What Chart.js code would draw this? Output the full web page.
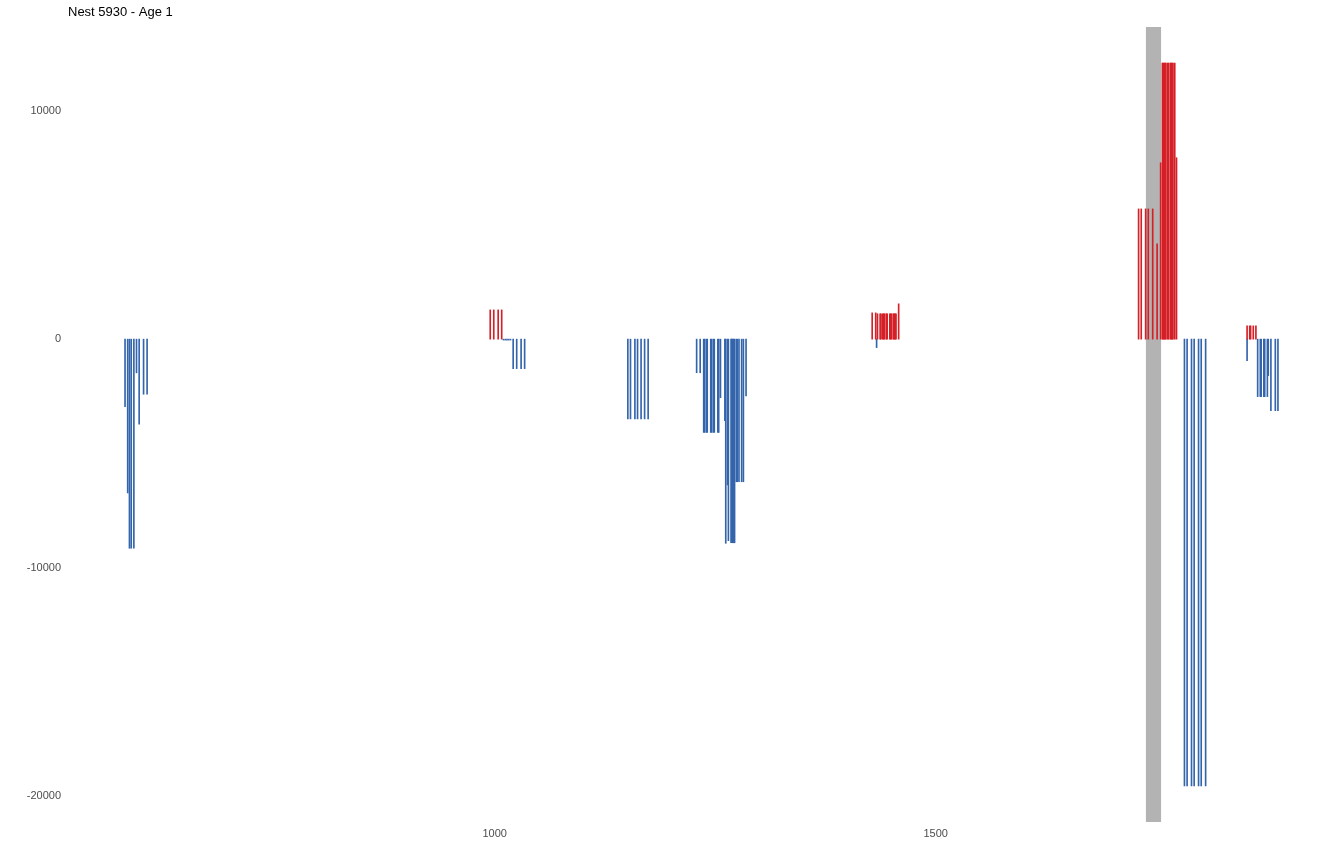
<!DOCTYPE html>
<html><head><meta charset="utf-8">
<script src="https://cdn.jsdelivr.net/npm/chart.js@4.4.1/dist/chart.umd.min.js"></script>
<style>html,body{margin:0;padding:0;background:#fff;overflow:hidden}#wrap{width:1344px;height:864px}</style>
</head><body><div id="wrap"><canvas id="c" width="1344" height="864"></canvas></div>
<script>
const titleText = "Nest 5930 - Age 1";

// positive values (red)
const gainX = [995, 999, 1004, 1008,
  1428, 1432, 1434, 1437, 1438, 1440, 1441, 1442, 1444, 1445, 1448, 1449, 1450, 1452, 1453, 1454, 1455, 1458,
  1730, 1733, 1738, 1741, 1746, 1751, 1755, 1757, 1758, 1759, 1760, 1761, 1763, 1764, 1766, 1767, 1768, 1769, 1771, 1773,
  1853, 1856, 1857, 1860, 1863];
const gainY = [1280, 1280, 1280, 1280,
  1150, 1150, 1110, 1110, 1110, 1110, 1110, 1110, 1110, 1110, 1110, 1110, 1110, 1110, 1110, 1110, 1110, 1545,
  5700, 5700, 5700, 5700, 5700, 4170, 7720, 12080, 12080, 12080, 12080, 12080, 12080, 12080, 12080, 12080, 12080, 12080, 12080, 7940,
  580, 580, 580, 580, 580];

// negative values (blue)
const lossX = [581, 584, 586, 588, 591, 594, 597, 602, 606,
  1010, 1012, 1014, 1016, 1018, 1021, 1025, 1030, 1034,
  1151, 1154, 1159, 1162, 1166, 1170, 1174,
  1229, 1233, 1237, 1238, 1240, 1241, 1245, 1246, 1248, 1249, 1253, 1254, 1256, 1261, 1262, 1264, 1265,
  1268, 1269, 1270, 1271, 1272, 1274, 1275, 1277, 1280, 1282, 1285,
  1433,
  1782, 1785, 1790, 1793, 1798, 1801, 1806,
  1853, 1865, 1868, 1869, 1872, 1873, 1876, 1877, 1880, 1885, 1888];
const lossY = [-2960, -6730, -9150, -9150, -9150, -1475, -3720, -2410, -2410,
  -40, -40, -40, -40, -40, -1290, -1290, -1290, -1290,
  -3490, -3490, -3490, -3490, -3490, -3490, -3490,
  -1470, -1470, -4080, -4080, -4080, -4080, -4080, -4080, -4080, -4080, -4080, -4080, -2560, -3565, -8935, -6380, -8820,
  -8910, -8910, -8910, -8910, -8910, -6240, -6240, -6240, -6240, -6240, -2480,
  -370,
  -19550, -19550, -19550, -19550, -19550, -19550, -19550,
  -940, -2515, -2515, -2515, -2515, -2515, -2515, -1595, -3130, -3130, -3130];

const xTicks = [1000, 1500];
const yTicks = [-20000, -10000, 0, 10000];
const bandStart = 1738.3;
const bandEnd = 1755.5;
const xLimits = [515.2, 1953.8];
const yLimits = [-21131, 13661];

const RED = '#D42027', BLUE = '#3465AC', BAND = '#B3B3B3';
const FONT = '"Liberation Sans", Arial, Helvetica, sans-serif';

const toPts = (xs, ys) => xs.map((x, i) => ({x: x, y: ys[i]}));

const bandPlugin = {
  id: 'band',
  beforeDatasetsDraw(chart) {
    const {ctx, chartArea, scales} = chart;
    const x0 = scales.x.getPixelForValue(bandStart);
    const x1 = scales.x.getPixelForValue(bandEnd);
    ctx.save();
    ctx.fillStyle = BAND;
    ctx.fillRect(x0, chartArea.top, x1 - x0, chartArea.bottom - chartArea.top);
    ctx.restore();
  }
};
const titlePlugin = {
  id: 'ggtitle',
  afterDraw(chart) {
    const {ctx, chartArea} = chart;
    ctx.save();
    ctx.fillStyle = '#000';
    ctx.font = '13px ' + FONT;
    ctx.textAlign = 'left';
    ctx.textBaseline = 'middle';
    ctx.fillText(titleText, chartArea.left + 1, 12);
    ctx.restore();
  }
};

new Chart(document.getElementById('c'), {
  type: 'bar',
  data: {
    datasets: [
      {data: toPts(gainX, gainY), backgroundColor: RED, barThickness: 1, grouped: false, borderWidth: 0},
      {data: toPts(lossX, lossY), backgroundColor: BLUE, barThickness: 1, grouped: false, borderWidth: 0}
    ]
  },
  options: {
    responsive: false,
    animation: false,
    devicePixelRatio: 1,
    layout: {padding: {top: 27, right: 8, left: 0, bottom: 0}},
    plugins: {legend: {display: false}, tooltip: {enabled: false}, title: {display: false}},
    scales: {
      x: {
        type: 'linear', min: xLimits[0], max: xLimits[1], offset: false,
        grid: {display: false, drawTicks: false}, border: {display: false},
        afterBuildTicks: s => { s.ticks = xTicks.map(v => ({value: v})); },
        afterFit: s => { s.height = 42; },
        ticks: {padding: 5, color: '#4D4D4D', font: {family: FONT, size: 11}, maxRotation: 0,
                callback: v => String(v)}
      },
      y: {
        type: 'linear', min: yLimits[0], max: yLimits[1],
        grid: {display: false, drawTicks: false}, border: {display: false},
        afterBuildTicks: s => { s.ticks = yTicks.map(v => ({value: v})); },
        afterFit: s => { s.width = 67; },
        ticks: {padding: 6, color: '#4D4D4D', font: {family: FONT, size: 11},
                callback: v => String(v)}
      }
    }
  },
  plugins: [bandPlugin, titlePlugin]
});
</script></body></html>
